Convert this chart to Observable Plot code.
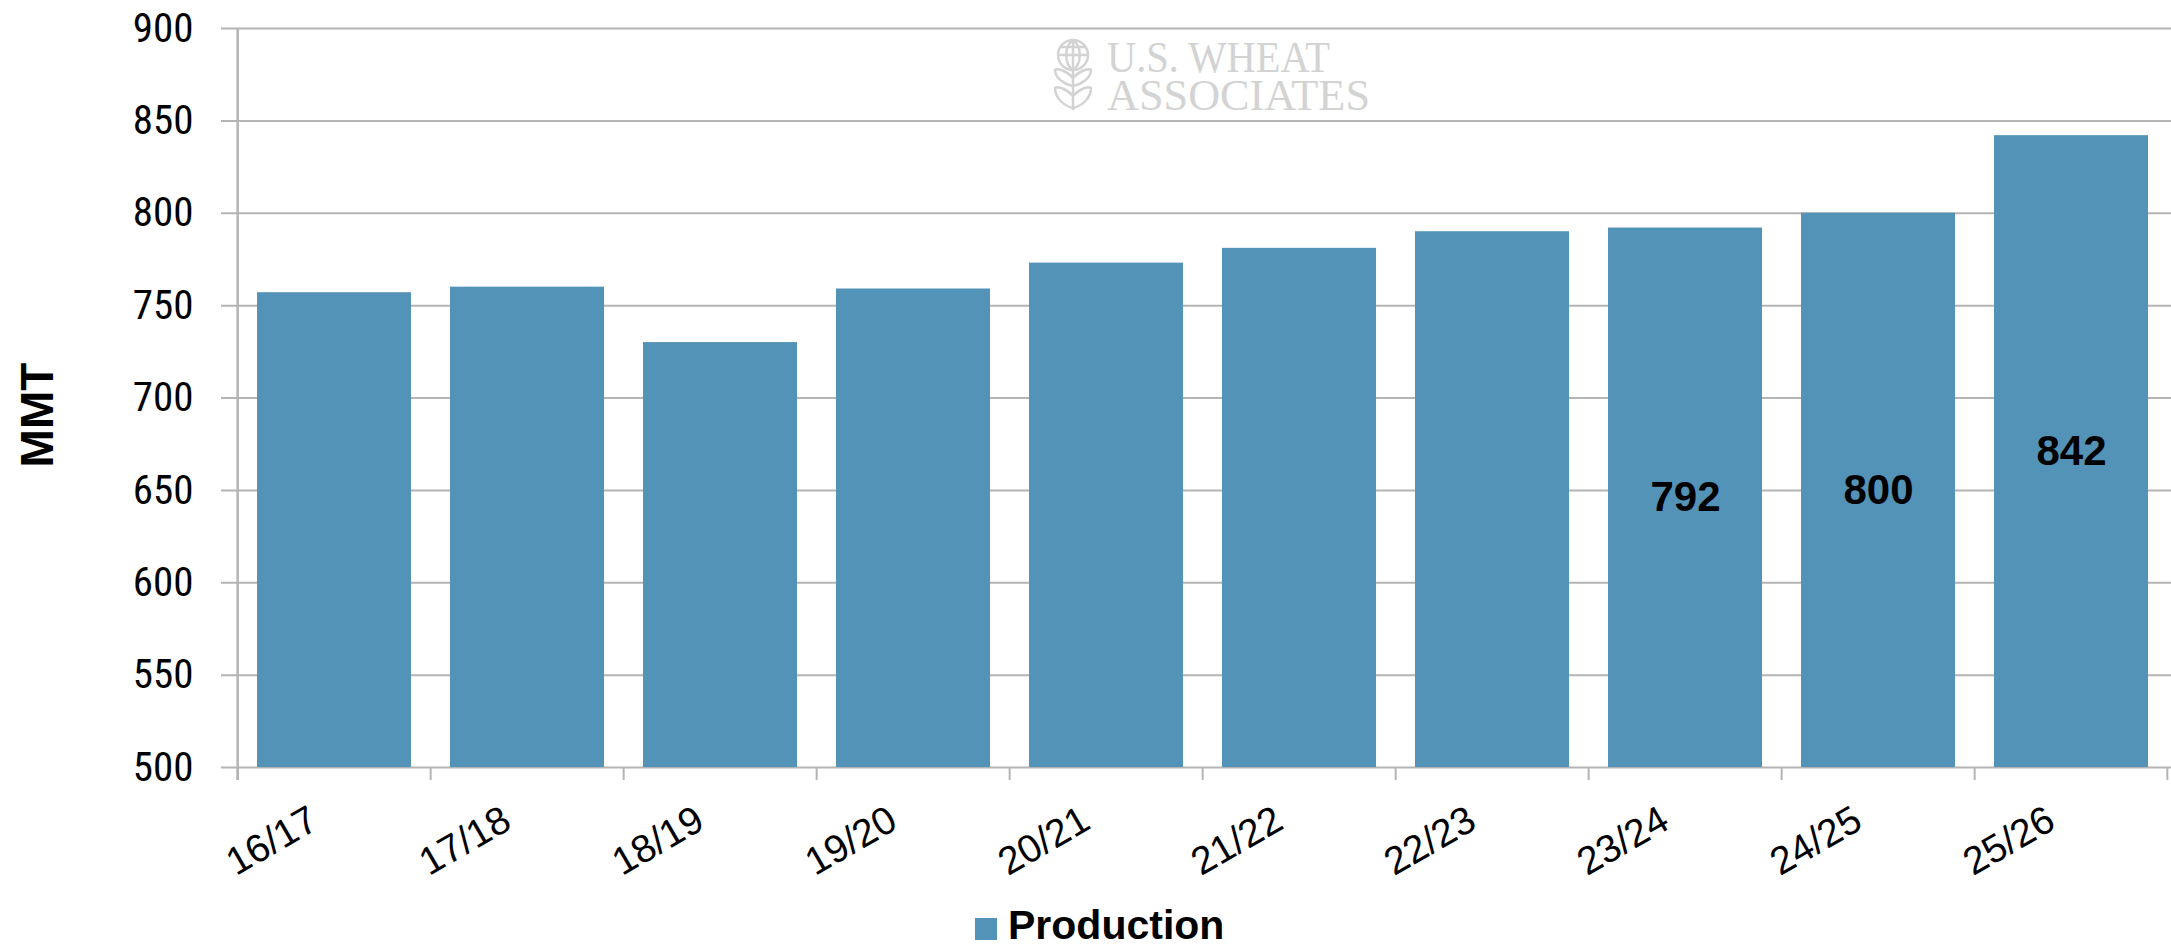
<!DOCTYPE html>
<html>
<head>
<meta charset="utf-8">
<script src="https://cdn.jsdelivr.net/npm/d3@7"></script>
<script src="https://cdn.jsdelivr.net/npm/@observablehq/plot@0.6"></script>
<style>
  html, body { margin: 0; padding: 0; background: #fff; }
  #chart { position: relative; width: 2171px; height: 948px; overflow: hidden; background: #fff; }
  #chart svg { display: block; }
  #legend { position: relative; width: 2171px; height: 53px; }
  #legend .swatch { position: absolute; left: 975px; top: 23px; width: 22px; height: 22px; background: #5493b8; }
  #legend .label { position: absolute; left: 1008px; top: 10px; font: bold 41px "Liberation Sans", Arial, sans-serif; line-height: 41px; color: #000; white-space: nowrap; }
</style>
</head>
<body>
<div id="chart"></div>
<script>
// ---- data ----
const seasons = ["16/17", "17/18", "18/19", "19/20", "20/21", "21/22", "22/23", "23/24", "24/25", "25/26"];
const production = [757, 760, 730, 759, 773, 781, 790, 792, 800, 842];
const labeledSeasons = ["23/24", "24/25", "25/26"];
const yTicks = [500, 550, 600, 650, 700, 750, 800, 850, 900];
const seriesName = "Production";
const axisTitle = "MMT";
const watermarkLines = ["U.S. WHEAT", "ASSOCIATES"];

const data = seasons.map((s, i) => ({season: s, value: production[i]}));
const labeled = data.filter(d => labeledSeasons.includes(d.season));

// ---- layout ----
const W = 2171, H = 895;
const mL = 234, mR = 0, mT = 28, mB = 128;
const pIn = 0.2, pOut = 0.1;
const step = (W - mL - mR) / (seasons.length - pIn + 2 * pOut);
const yMin = d3.min(yTicks), yMax = d3.max(yTicks);
const gridColor = "#b4b4b4";
const barColor = "#5493b8";
const narrow = "'Liberation Sans Narrow', 'Arial Narrow', 'Roboto Condensed', 'DejaVu Sans Condensed', sans-serif";
const sans = "'Liberation Sans', Arial, Helvetica, sans-serif";

const plot = Plot.plot({
  width: W, height: H,
  marginLeft: mL, marginRight: mR, marginTop: mT, marginBottom: mB,
  style: {fontFamily: sans, background: "#fff", color: "#000", overflow: "visible"},
  x: {domain: seasons, paddingInner: pIn, paddingOuter: pOut, align: 0.5, axis: null},
  y: {domain: [yMin, yMax], axis: null},
  marks: [
    // gridlines (extend left to form tick marks)
    Plot.ruleY(yTicks, {y: d => d, stroke: gridColor, strokeWidth: 2, insetLeft: -13}),
    // bars
    Plot.barY(data, {x: "season", y1: yMin, y2: "value", fill: barColor}),
    // vertical axis line at left band boundary
    Plot.ruleX([seasons[0]], {x: d => d, y1: yMax, y2: yMin, dx: -step / 2, insetBottom: -13, stroke: gridColor, strokeWidth: 2.5}),
    // x ticks at band boundaries
    Plot.ruleX(seasons, {x: d => d, y1: yMin, y2: yMin, dx: -step / 2, insetBottom: -13, stroke: gridColor, strokeWidth: 2}),
    Plot.ruleX([seasons[seasons.length - 1]], {x: d => d, y1: yMin, y2: yMin, dx: step / 2 - 1, insetBottom: -13, stroke: gridColor, strokeWidth: 2}),
    // y tick labels
    Plot.text(yTicks, {y: d => d, text: d => String(d), frameAnchor: "left", textAnchor: "end", dx: -41, fontSize: 41, fontFamily: narrow, fill: "#000"}),
    // x tick labels
    Plot.text(data, {x: "season", text: "season", frameAnchor: "bottom", rotate: -30, textAnchor: "end", lineAnchor: "bottom", dx: -14, dy: 60, fontSize: 39, fill: "#000"}),
    // value labels centered in bars
    Plot.text(labeled, {x: "season", y: d => (yMin + d.value) / 2, text: d => String(d.value), fontSize: 42, fontWeight: "bold", fill: "#000"}),
    // y axis title
    Plot.text([axisTitle], {text: d => d, frameAnchor: "left", textAnchor: "middle", rotate: -90, lineAnchor: "bottom", dx: -182, dy: 17, fontSize: 46, fontWeight: "bold", fill: "#000"})
  ]
});

// ---- watermark (decorative) ----
const svg = d3.select(plot);
const wm = svg.append("g").attr("class", "watermark").attr("text-anchor", "start");
const wmColor = "#d3d3d3";
const serif = "'Liberation Serif', 'Times New Roman', serif";
wm.append("text").attr("x", 1107).attr("y", 72).attr("textLength", 223).attr("lengthAdjust", "spacingAndGlyphs")
  .attr("text-anchor", "start").attr("font-family", serif).attr("font-size", 44).attr("fill", wmColor).text(watermarkLines[0]);
wm.append("text").attr("x", 1107).attr("y", 110).attr("textLength", 263).attr("lengthAdjust", "spacingAndGlyphs")
  .attr("text-anchor", "start").attr("font-family", serif).attr("font-size", 44).attr("fill", wmColor).text(watermarkLines[1]);
const icon = wm.append("g").attr("fill", "none").attr("stroke", wmColor).attr("stroke-width", 2.5);
icon.append("circle").attr("cx", 1073).attr("cy", 55).attr("r", 15);
icon.append("path").attr("d", "M1073 40 V110 M1058 55 H1088 M1061 47 H1085 M1073 40 C1064 46 1064 64 1073 70 C1082 64 1082 46 1073 40");
icon.append("path").attr("d", "M1073 78 C1066 70 1057 68 1055 70 C1055 78 1064 84 1073 86 C1082 84 1091 78 1091 70 C1089 68 1080 70 1073 78");
icon.append("path").attr("d", "M1073 96 C1066 88 1057 86 1055 88 C1055 98 1064 106 1073 108 C1082 106 1091 98 1091 88 C1089 86 1080 88 1073 96");

const chart = document.getElementById("chart");
chart.appendChild(plot);

// ---- legend below the SVG ----
const legend = document.createElement("div");
legend.id = "legend";
const sw = document.createElement("div"); sw.className = "swatch";
const lb = document.createElement("div"); lb.className = "label"; lb.textContent = seriesName;
legend.appendChild(sw); legend.appendChild(lb);
chart.appendChild(legend);
</script>
</body>
</html>
